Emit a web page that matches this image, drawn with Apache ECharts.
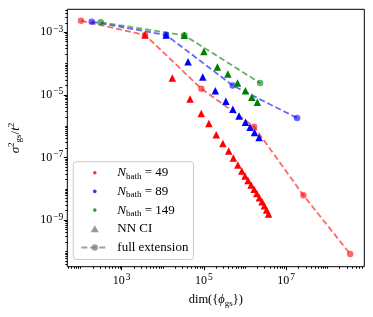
<!DOCTYPE html>
<html><head><meta charset="utf-8">
<script src="https://cdn.jsdelivr.net/npm/echarts@6/dist/echarts.min.js"></script>
<style>html,body{margin:0;padding:0;background:#fff}#c{width:373px;height:317px}</style>
</head><body><div id="c"></div><script>
// ---- data (dimension, sigma^2/t^2) ----
const fullX49 = [102, 3690, 86500, 1.66e6, 2.62e7, 3.59e8];
const fullY49 = [2.34e-3, 8.2e-4, 1.58e-5, 9.6e-7, 6.2e-9, 8.3e-11];
const fullX89 = [186, 1.2e4, 5.0e5, 1.84e7];
const fullY89 = [2.18e-3, 8.2e-4, 2.0e-5, 1.83e-6];
const fullX149 = [308, 3.33e4, 2.32e6];
const fullY149 = [2.09e-3, 8.0e-4, 2.4e-5];

const nnX49 = [3690, 1.70e4, 4.59e4, 8.59e4, 1.315e5, 1.99e5, 2.88e5, 3.99e5, 5.19e5, 6.68e5, 8.32e5,
  1.0e6, 1.18e6, 1.40e6, 1.66e6, 1.93e6, 2.23e6, 2.59e6, 2.95e6, 3.33e6, 3.73e6];
const nnY49 = [8.2e-4, 3.47e-5, 7.4e-6, 2.55e-6, 1.22e-6, 5.3e-7, 2.8e-7, 1.61e-7, 9.6e-8, 5.75e-8, 3.7e-8,
  2.56e-8, 1.84e-8, 1.32e-8, 9.6e-9, 7.1e-9, 5.2e-9, 3.87e-9, 2.88e-9, 2.1e-9, 1.57e-9];
const nnX89 = [1.2e4, 4.1e4, 9.35e4, 1.89e5, 3.41e5, 5.05e5, 7.14e5, 1.02e6, 1.32e6, 1.70e6, 2.19e6];
const nnY89 = [8.2e-4, 1.15e-4, 3.73e-5, 1.36e-5, 6.3e-6, 3.47e-6, 2.12e-6, 1.34e-6, 9.2e-7, 6.3e-7, 4.36e-7];
const nnX149 = [3.33e4, 9.95e4, 2.12e5, 3.82e5, 6.57e5, 1.02e6, 1.46e6, 1.99e6];
const nnY149 = [8.0e-4, 2.44e-4, 7.8e-5, 4.66e-5, 2.4e-5, 1.36e-5, 8.4e-6, 5.8e-6];

const xTickExps = [3, 5, 7];
const yTickExps = [-3, -5, -7, -9];
const xLimits = [47.4, 7.94e8];
const yLimits = [3.24e-11, 5.43e-3];

// ---- helpers ----
const L = Math.log10;
const pts = (xs, ys) => xs.map((x, i) => [L(x), L(ys[i])]);
function minorTicks(lo, hi, majors) {
  const out = [];
  for (let d = Math.floor(lo) - 1; d <= Math.ceil(hi); d++) {
    for (let k = 1; k <= 9; k++) {
      const v = d + Math.log10(k);
      if (v > lo && v < hi && !(k === 1 && majors.includes(d))) out.push(v);
    }
  }
  return out;
}
const xr = [L(xLimits[0]), L(xLimits[1])];
const yr = [L(yLimits[0]), L(yLimits[1])];
const xMinor = minorTicks(xr[0], xr[1], xTickExps);
const yMinor = minorTicks(yr[0], yr[1], yTickExps);
const FONT = 'Liberation Serif';
const tickRich = {
  b: {fontFamily: FONT, fontSize: 12, lineHeight: 16, verticalAlign: 'middle', color: '#000'},
  s: {fontFamily: FONT, fontSize: 9.5, lineHeight: 10, verticalAlign: 'top', color: '#000', padding: [0, 0, 0, 1]}
};
const expFmt = v => '{b|10}{s|' + String(Math.round(v)).replace('-', '\u2212') + '}';
const RED = '#ff0000', BLUE = '#0000ff', GREEN = '#008000', GRAY = '#808080';
const dotPath = 'path://M0,0M8,8M4,2.2A1.8,1.8,0,1,1,4,5.8A1.8,1.8,0,1,1,4,2.2Z';
const triPath = 'path://M0,0M8,8M4,0.5L8,7.5L0,7.5Z';

function fullSeries(name, xs, ys, color) {
  return {name, type: 'line', data: pts(xs, ys), symbol: 'circle', symbolSize: 6.5,
    itemStyle: {color, opacity: 0.6},
    lineStyle: {color, width: 1.8, type: [6, 3], opacity: 0.6}, z: 2};
}
function nnSeries(name, xs, ys, color) {
  return {name, type: 'scatter', data: pts(xs, ys), symbol: 'triangle', symbolSize: 7.5,
    itemStyle: {color, opacity: 1}, z: 3};
}
function tickAxis(kind, range, values, len, labelOpt, extra) {
  return Object.assign({type: 'value', min: range[0], max: range[1],
    position: kind === 'x' ? 'bottom' : 'left', offset: 0,
    axisLine: {show: false, onZero: false}, splitLine: {show: false},
    axisTick: {show: true, inside: false, length: len, customValues: values, lineStyle: {color: '#000', width: 1}},
    axisLabel: labelOpt}, extra || {});
}

const chart = echarts.init(document.getElementById('c'), null, {renderer: 'canvas'});
chart.setOption({
  animation: false,
  backgroundColor: '#fff',
  grid: {left: 67.3, right: 8.7, top: 9.3, bottom: 50.3, show: true, borderColor: '#000', borderWidth: 1,
    containLabel: false, outerBoundsMode: 'none'},
  xAxis: [
    tickAxis('x', xr, xTickExps, 3.5, {customValues: xTickExps, formatter: expFmt, rich: tickRich, margin: 6}, {
      name: 'dim({{i|\u03d5}{sub|gs}})', nameLocation: 'middle', nameGap: 25,
      nameTextStyle: {fontFamily: FONT, fontSize: 12.5, color: '#000',
        rich: {i: {fontFamily: FONT, fontSize: 12.5, fontStyle: 'italic', lineHeight: 16},
               sub: {fontFamily: FONT, fontSize: 9, lineHeight: 9, verticalAlign: 'bottom'}}}}),
    tickAxis('x', xr, xMinor, 2, {show: true, customValues: xMinor, formatter: () => ''})
  ],
  yAxis: [
    tickAxis('y', yr, yTickExps, 3.5, {customValues: yTickExps, formatter: expFmt, rich: tickRich, margin: 4}, {
      name: '{i|\u03c3}{sup|2}{sub|gs}{n|/}{i|t}{sup|2}', nameLocation: 'middle', nameGap: 44, nameRotate: 90,
      nameTextStyle: {fontFamily: FONT, fontSize: 12, color: '#000',
        rich: {i: {fontFamily: FONT, fontSize: 13, fontStyle: 'italic', lineHeight: 16},
               n: {fontFamily: FONT, fontSize: 13, lineHeight: 16},
               sup: {fontFamily: FONT, fontSize: 9, lineHeight: 9, verticalAlign: 'top'},
               sub: {fontFamily: FONT, fontSize: 9, lineHeight: 9, verticalAlign: 'bottom'}}}}),
    tickAxis('y', yr, yMinor, 2, {show: true, customValues: yMinor, formatter: () => ''})
  ],
  legend: {
    left: 73.3, top: 161.7, orient: 'vertical', itemWidth: 27, itemHeight: 8, itemGap: 2.7,
    padding: [3, 5, 4, 7], borderColor: '#cccccc', borderWidth: 1, borderRadius: 3,
    backgroundColor: 'rgba(255,255,255,0.8)', selectedMode: false,
    data: [
      {name: 'N49', icon: dotPath}, {name: 'N89', icon: dotPath}, {name: 'N149', icon: dotPath},
      {name: 'NN CI', icon: triPath}, {name: 'full extension'}
    ],
    formatter: n => ({
      N49: '{i|N}{sub|bath}{n| = 49}', N89: '{i|N}{sub|bath}{n| = 89}', N149: '{i|N}{sub|bath}{n| = 149}',
      'NN CI': '{n|NN CI}', 'full extension': '{n|full extension}'
    })[n],
    textStyle: {fontFamily: FONT, fontSize: 13, color: '#000', lineHeight: 16, padding: [0, 0, 0, 4],
      rich: {
        n: {fontFamily: FONT, fontSize: 13, lineHeight: 16},
        i: {fontFamily: FONT, fontSize: 13, fontStyle: 'italic', lineHeight: 16},
        sub: {fontFamily: FONT, fontSize: 9, lineHeight: 9, verticalAlign: 'bottom'}
      }}
  },
  series: [
    fullSeries('fe49', fullX49, fullY49, RED),
    fullSeries('fe89', fullX89, fullY89, BLUE),
    fullSeries('fe149', fullX149, fullY149, GREEN),
    nnSeries('nn49', nnX49, nnY49, RED),
    nnSeries('nn89', nnX89, nnY89, BLUE),
    nnSeries('nn149', nnX149, nnY149, GREEN),
    {name: 'N49', type: 'scatter', data: [], itemStyle: {color: RED}},
    {name: 'N89', type: 'scatter', data: [], itemStyle: {color: BLUE}},
    {name: 'N149', type: 'scatter', data: [], itemStyle: {color: GREEN}},
    {name: 'NN CI', type: 'scatter', data: [], symbol: 'triangle', itemStyle: {color: GRAY}},
    {name: 'full extension', type: 'line', data: [], symbol: 'circle', itemStyle: {color: GRAY, opacity: 0.75},
      lineStyle: {color: GRAY, width: 1.8, type: [6, 3], opacity: 0.75}}
  ]
});
</script></body></html>
